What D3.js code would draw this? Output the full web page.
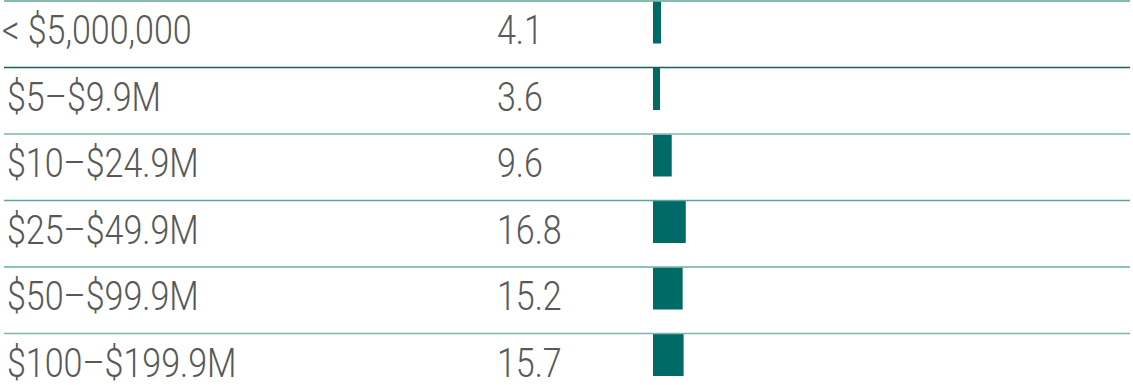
<!DOCTYPE html>
<html>
<head>
<meta charset="utf-8">
<script src="https://d3js.org/d3.v7.min.js"></script>
<style>
  body { margin: 0; background: #fff; }
  svg { display: block; }
</style>
</head>
<body>
<div id="chart"></div>
<script>
  // Chart data
  const categories = ['< $5,000,000', '$5\u2013$9.9M', '$10\u2013$24.9M', '$25\u2013$49.9M', '$50\u2013$99.9M', '$100\u2013$199.9M'];
  const values = [4.1, 3.6, 9.6, 16.8, 15.2, 15.7];
  const valueLabels = ['4.1', '3.6', '9.6', '16.8', '15.2', '15.7'];

  // Rule colours above each row
  const ruleColors = ['#5ea39c', '#1a5f5a', '#7db6b0', '#5ea39c', '#6aaca5', '#7db6b0'];

  const width = 1133, height = 385;
  const rowH = 66.5;
  const squeeze = 0.83; // condensed look

  const svg = d3.select('#chart')
    .append('svg')
    .attr('width', width)
    .attr('height', height);

  const y = d3.scaleBand()
    .domain(categories)
    .range([1, 1 + rowH * categories.length])
    .padding(0);

  const x = d3.scaleLinear()
    .domain([0, 100])
    .range([653, 653 + 195]);

  const rows = svg.selectAll('g.row')
    .data(categories)
    .enter()
    .append('g')
    .attr('class', 'row')
    .attr('transform', d => 'translate(0,' + y(d) + ')');

  // bars
  rows.append('rect')
    .attr('x', x(0))
    .attr('y', 0.5)
    .attr('width', (d, i) => x(values[i]) - x(0))
    .attr('height', 42)
    .style('fill', '#006b66');

  // rules
  rows.append('line')
    .attr('x1', 4)
    .attr('x2', 1130)
    .attr('y1', 0)
    .attr('y2', 0)
    .style('stroke', (d, i) => ruleColors[i])
    .style('stroke-width', 1.6);

  const textStyle = sel => sel
    .style('font-family', 'Roboto, sans-serif')
    .style('font-weight', 300)
    .style('font-size', '41px')
    .style('fill', '#585858');

  // category labels
  rows.append('g')
    .attr('transform', (d, i) => 'translate(' + (i === 0 ? 2 : 7) + ',43) scale(' + squeeze + ',1)')
    .append('text')
    .text(d => d)
    .call(textStyle);

  // value labels
  rows.append('g')
    .attr('transform', 'translate(497,43) scale(' + squeeze + ',1)')
    .append('text')
    .text((d, i) => valueLabels[i])
    .call(textStyle);
</script>
</body>
</html>
